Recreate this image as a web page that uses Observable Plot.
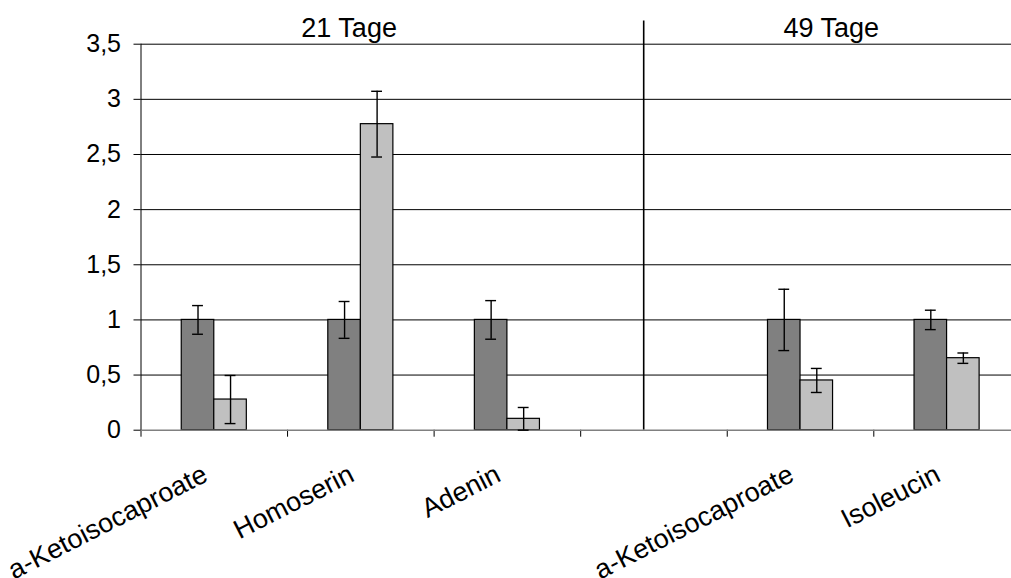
<!DOCTYPE html>
<html>
<head>
<meta charset="utf-8">
<script src="https://cdn.jsdelivr.net/npm/d3@7"></script>
<script src="https://cdn.jsdelivr.net/npm/@observablehq/plot@0.6"></script>
<style>
  html, body { margin: 0; padding: 0; background: #fff; overflow: hidden; }
  svg { display: block; }
</style>
</head>
<body>
<div id="chart"></div>
<script>
// ---- data ----
const categories = ["a-Ketoisocaproate", "Homoserin", "Adenin", "", "a-Ketoisocaproate", "Isoleucin"];
const darkValues  = [1, 1, 1, null, 1, 1];
const darkErrors  = [0.13, 0.167, 0.175, null, 0.278, 0.088];
const lightValues = [0.278, 2.775, 0.103, null, 0.451, 0.653];
const lightErrors = [0.218, 0.298, 0.103, null, 0.109, 0.047];
const yTicks = [0, 0.5, 1, 1.5, 2, 2.5, 3, 3.5];
const periodLabels = ["21 Tage", "49 Tage"];
const periodCenters = [1.42, 4.71];   // in category units
const periodDivider = 3.43;           // in category units

// ---- build rows ----
const barW = 0.222;
const rows = [];
categories.forEach((c, i) => {
  if (darkValues[i] != null) {
    const mid = i + 0.5;
    rows.push({cat: c, series: "dark", value: darkValues[i], err: darkErrors[i], x1: mid - barW, x2: mid, cx: mid - barW / 2});
    rows.push({cat: c, series: "light", value: lightValues[i], err: lightErrors[i], x1: mid, x2: mid + barW, cx: mid + barW / 2});
  }
});
const labels = categories.map((c, i) => ({label: c, x: i + 0.5})).filter(d => d.label);
const periods = periodLabels.map((l, i) => ({label: l, x: periodCenters[i]}));
const boundaries = d3.range(categories.length + 1);
const fmt = d => String(d).replace(".", ",");
const W = 1011, H = 578, ML = 140.5, MT = 43.7, MB = 148.3;
const catPx = 146.56;
const xMax = (W - ML) / catPx;

const chart = Plot.plot({
  width: W,
  height: H,
  marginLeft: ML,
  marginRight: 0,
  marginTop: MT,
  marginBottom: MB,
  style: {fontFamily: "'Liberation Sans', Arial, sans-serif", fontSize: "25px", color: "#000", background: "#fff", overflow: "visible"},
  x: {domain: [0, xMax], ticks: boundaries, tickFormat: () => "", tickSize: 7, label: null, line: false},
  y: {domain: [0, 3.5], ticks: yTicks, tickFormat: fmt, tickSize: 7, tickPadding: 13, label: null, line: true},
  marks: [
    Plot.ruleY(yTicks.filter(d => d > 0), {stroke: "#000", strokeWidth: 1}),
    Plot.ruleX([periodDivider], {y1: 0, y2: 3.71, stroke: "#000", strokeWidth: 1.6}),
    Plot.rectY(rows, {
      x1: "x1", x2: "x2", y1: 0, y2: "value",
      fill: d => d.series === "dark" ? "#808080" : "#c0c0c0",
      stroke: "#000", strokeWidth: 1.2, insetLeft: 0, insetRight: 0
    }),
    Plot.ruleY([0], {stroke: "#808080", strokeWidth: 1.5}),
    Plot.ruleX(rows, {x: "cx", y1: d => Math.max(0, d.value - d.err), y2: d => d.value + d.err, stroke: "#000", strokeWidth: 1.4}),
    Plot.ruleY(rows, {y: d => d.value + d.err, x1: d => d.cx - 0.037, x2: d => d.cx + 0.037, stroke: "#000", strokeWidth: 1.4}),
    Plot.ruleY(rows, {y: d => Math.max(0, d.value - d.err), x1: d => d.cx - 0.037, x2: d => d.cx + 0.037, stroke: "#000", strokeWidth: 1.4}),
    Plot.text(periods, {x: "x", y: 3.5, text: "label", dy: -7, lineAnchor: "bottom", textAnchor: "middle", fontSize: 27, fill: "#000"}),
    Plot.text(labels, {x: "x", y: 0, text: "label", dx: -5, dy: 50, rotate: -27, lineAnchor: "bottom", textAnchor: "end", fontSize: 27, fill: "#000"})
  ]
});
document.getElementById("chart").appendChild(chart);
</script>
</body>
</html>
